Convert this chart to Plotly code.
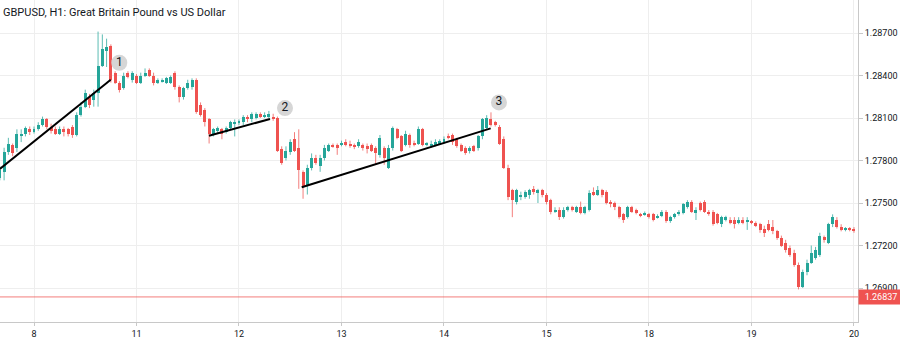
import plotly.graph_objects as go

# Hourly GBPUSD candles, index 0 = first hour of day 8
hours = list(range(-8, 193))

opens = [
    1.2768, 1.2772, 1.2786, 1.2791, 1.2789, 1.2797, 1.2799, 1.2802, 1.2800, 1.2802, 1.2805, 1.2809,
    1.2804, 1.2802, 1.2799, 1.2802, 1.2802, 1.2804, 1.2798, 1.2812, 1.2818, 1.2825, 1.2823, 1.2828,
    1.2847, 1.2857, 1.2861, 1.2842, 1.2835, 1.2831, 1.2842, 1.2837, 1.2840, 1.2835, 1.2840, 1.2844,
    1.2840, 1.2835, 1.2836, 1.2835, 1.2835, 1.2842, 1.2832, 1.2825, 1.2831, 1.2832, 1.2837, 1.2819,
    1.2816, 1.2809, 1.2799, 1.2801, 1.2802, 1.2800, 1.2803, 1.2806, 1.2807, 1.2807, 1.2811, 1.2809,
    1.2810, 1.2813, 1.2811, 1.2811, 1.2811, 1.2810, 1.2788, 1.2782, 1.2786, 1.2795, 1.2789, 1.2772,
    1.2763, 1.2775, 1.2782, 1.2776, 1.2782, 1.2787, 1.2791, 1.2791, 1.2791, 1.2793, 1.2792, 1.2791,
    1.2790, 1.2791, 1.2790, 1.2791, 1.2789, 1.2784, 1.2789, 1.2775, 1.2789, 1.2802, 1.2797, 1.2791,
    1.2798, 1.2792, 1.2792, 1.2802, 1.2791, 1.2790, 1.2791, 1.2792, 1.2793, 1.2797, 1.2798, 1.2795,
    1.2791, 1.2789, 1.2787, 1.2790, 1.2789, 1.2797, 1.2803, 1.2809, 1.2807, 1.2804, 1.2795, 1.2775,
    1.2759, 1.2751, 1.2754, 1.2754, 1.2756, 1.2760, 1.2757, 1.2759, 1.2756, 1.2752, 1.2744, 1.2745,
    1.2740, 1.2745, 1.2747, 1.2744, 1.2747, 1.2743, 1.2745, 1.2758, 1.2756, 1.2759, 1.2758, 1.2751,
    1.2750, 1.2747, 1.2742, 1.2740, 1.2747, 1.2745, 1.2742, 1.2742, 1.2742, 1.2742, 1.2740, 1.2741,
    1.2744, 1.2737, 1.2740, 1.2742, 1.2743, 1.2747, 1.2751, 1.2743, 1.2750, 1.2751, 1.2744, 1.2744,
    1.2742, 1.2735, 1.2738, 1.2738, 1.2738, 1.2736, 1.2738, 1.2737, 1.2737, 1.2736, 1.2735, 1.2732,
    1.2735, 1.2733, 1.2730, 1.2725, 1.2722, 1.2718, 1.2715, 1.2706, 1.2691, 1.2701, 1.2708, 1.2711,
    1.2713, 1.2726, 1.2722, 1.2735, 1.2738, 1.2733, 1.2731, 1.2732, 1.2732,
]

highs = [
    1.2776, 1.2789, 1.2796, 1.2792, 1.2802, 1.2802, 1.2804, 1.2804, 1.2804, 1.2807, 1.2811, 1.2810,
    1.2806, 1.2804, 1.2804, 1.2804, 1.2803, 1.2805, 1.2814, 1.2821, 1.2830, 1.2827, 1.2830, 1.2871,
    1.2869, 1.2866, 1.2862, 1.2843, 1.2836, 1.2842, 1.2843, 1.2843, 1.2841, 1.2842, 1.2845, 1.2845,
    1.2842, 1.2838, 1.2838, 1.2839, 1.2840, 1.2843, 1.2833, 1.2832, 1.2837, 1.2838, 1.2838, 1.2821,
    1.2817, 1.2810, 1.2803, 1.2804, 1.2803, 1.2804, 1.2808, 1.2809, 1.2809, 1.2812, 1.2812, 1.2814,
    1.2814, 1.2814, 1.2814, 1.2815, 1.2813, 1.2811, 1.2790, 1.2790, 1.2795, 1.2800, 1.2802, 1.2773,
    1.2777, 1.2785, 1.2784, 1.2784, 1.2791, 1.2792, 1.2792, 1.2792, 1.2794, 1.2795, 1.2794, 1.2792,
    1.2795, 1.2792, 1.2792, 1.2792, 1.2790, 1.2798, 1.2790, 1.2791, 1.2804, 1.2803, 1.2798, 1.2801,
    1.2799, 1.2794, 1.2804, 1.2803, 1.2793, 1.2794, 1.2795, 1.2795, 1.2797, 1.2799, 1.2799, 1.2796,
    1.2792, 1.2790, 1.2790, 1.2791, 1.2798, 1.2810, 1.2812, 1.2814, 1.2808, 1.2805, 1.2797, 1.2777,
    1.2760, 1.2760, 1.2758, 1.2759, 1.2760, 1.2762, 1.2760, 1.2760, 1.2757, 1.2753, 1.2747, 1.2747,
    1.2747, 1.2748, 1.2748, 1.2748, 1.2751, 1.2748, 1.2759, 1.2761, 1.2762, 1.2760, 1.2759, 1.2752,
    1.2751, 1.2748, 1.2743, 1.2748, 1.2748, 1.2746, 1.2743, 1.2744, 1.2743, 1.2743, 1.2742, 1.2745,
    1.2745, 1.2741, 1.2743, 1.2745, 1.2750, 1.2752, 1.2752, 1.2747, 1.2751, 1.2752, 1.2745, 1.2745,
    1.2743, 1.2741, 1.2741, 1.2740, 1.2740, 1.2740, 1.2740, 1.2740, 1.2738, 1.2737, 1.2736, 1.2734,
    1.2738, 1.2738, 1.2731, 1.2727, 1.2724, 1.2720, 1.2717, 1.2708, 1.2703, 1.2710, 1.2720, 1.2719,
    1.2729, 1.2727, 1.2736, 1.2742, 1.2740, 1.2735, 1.2733, 1.2733, 1.2733,
]

lows = [
    1.2766, 1.2766, 1.2784, 1.2783, 1.2786, 1.2793, 1.2797, 1.2798, 1.2799, 1.2801, 1.2804, 1.2802,
    1.2799, 1.2798, 1.2798, 1.2797, 1.2797, 1.2796, 1.2797, 1.2811, 1.2817, 1.2817, 1.2818, 1.2818,
    1.2846, 1.2846, 1.2835, 1.2834, 1.2828, 1.2830, 1.2838, 1.2835, 1.2834, 1.2834, 1.2839, 1.2839,
    1.2833, 1.2834, 1.2835, 1.2834, 1.2834, 1.2830, 1.2821, 1.2823, 1.2830, 1.2830, 1.2813, 1.2811,
    1.2804, 1.2792, 1.2797, 1.2799, 1.2795, 1.2799, 1.2802, 1.2797, 1.2805, 1.2805, 1.2807, 1.2807,
    1.2809, 1.2810, 1.2810, 1.2810, 1.2808, 1.2786, 1.2777, 1.2780, 1.2784, 1.2786, 1.2760, 1.2753,
    1.2756, 1.2773, 1.2777, 1.2772, 1.2780, 1.2786, 1.2789, 1.2784, 1.2790, 1.2790, 1.2789, 1.2788,
    1.2789, 1.2787, 1.2785, 1.2786, 1.2777, 1.2782, 1.2777, 1.2774, 1.2787, 1.2795, 1.2786, 1.2790,
    1.2789, 1.2790, 1.2791, 1.2790, 1.2790, 1.2789, 1.2790, 1.2791, 1.2792, 1.2795, 1.2791, 1.2789,
    1.2786, 1.2784, 1.2785, 1.2786, 1.2787, 1.2795, 1.2802, 1.2804, 1.2804, 1.2791, 1.2774, 1.2752,
    1.2740, 1.2749, 1.2752, 1.2753, 1.2753, 1.2756, 1.2750, 1.2754, 1.2749, 1.2742, 1.2743, 1.2738,
    1.2739, 1.2744, 1.2744, 1.2743, 1.2742, 1.2742, 1.2744, 1.2755, 1.2755, 1.2754, 1.2749, 1.2747,
    1.2745, 1.2739, 1.2736, 1.2739, 1.2743, 1.2742, 1.2740, 1.2741, 1.2739, 1.2737, 1.2739, 1.2740,
    1.2736, 1.2736, 1.2739, 1.2741, 1.2742, 1.2746, 1.2743, 1.2738, 1.2744, 1.2743, 1.2741, 1.2734,
    1.2735, 1.2733, 1.2737, 1.2735, 1.2732, 1.2735, 1.2735, 1.2731, 1.2735, 1.2733, 1.2729, 1.2726,
    1.2730, 1.2728, 1.2724, 1.2719, 1.2715, 1.2712, 1.2705, 1.2689, 1.2690, 1.2699, 1.2707, 1.2710,
    1.2712, 1.2722, 1.2721, 1.2733, 1.2732, 1.2730, 1.2730, 1.2730, 1.2729,
]

closes = [
    1.2773, 1.2786, 1.2792, 1.2785, 1.2799, 1.2799, 1.2803, 1.2800, 1.2802, 1.2805, 1.2809, 1.2804,
    1.2801, 1.2799, 1.2802, 1.2800, 1.2799, 1.2798, 1.2812, 1.2818, 1.2828, 1.2819, 1.2828, 1.2847,
    1.2859, 1.2860, 1.2837, 1.2835, 1.2830, 1.2840, 1.2839, 1.2842, 1.2835, 1.2840, 1.2842, 1.2840,
    1.2835, 1.2837, 1.2837, 1.2838, 1.2839, 1.2832, 1.2825, 1.2831, 1.2835, 1.2837, 1.2814, 1.2812,
    1.2807, 1.2799, 1.2802, 1.2803, 1.2799, 1.2803, 1.2807, 1.2807, 1.2808, 1.2811, 1.2809, 1.2813,
    1.2813, 1.2811, 1.2812, 1.2813, 1.2809, 1.2787, 1.2778, 1.2787, 1.2793, 1.2787, 1.2773, 1.2761,
    1.2775, 1.2782, 1.2778, 1.2782, 1.2789, 1.2791, 1.2790, 1.2789, 1.2792, 1.2791, 1.2790, 1.2790,
    1.2793, 1.2789, 1.2788, 1.2787, 1.2785, 1.2796, 1.2782, 1.2789, 1.2803, 1.2796, 1.2787, 1.2799,
    1.2791, 1.2791, 1.2802, 1.2791, 1.2792, 1.2792, 1.2793, 1.2794, 1.2795, 1.2796, 1.2793, 1.2790,
    1.2787, 1.2785, 1.2789, 1.2787, 1.2797, 1.2809, 1.2810, 1.2805, 1.2805, 1.2792, 1.2775, 1.2754,
    1.2752, 1.2759, 1.2756, 1.2758, 1.2759, 1.2758, 1.2759, 1.2756, 1.2751, 1.2744, 1.2745, 1.2740,
    1.2745, 1.2747, 1.2745, 1.2747, 1.2743, 1.2747, 1.2757, 1.2756, 1.2759, 1.2756, 1.2750, 1.2749,
    1.2747, 1.2740, 1.2738, 1.2747, 1.2744, 1.2743, 1.2741, 1.2743, 1.2740, 1.2738, 1.2741, 1.2744,
    1.2737, 1.2740, 1.2742, 1.2744, 1.2749, 1.2751, 1.2744, 1.2745, 1.2745, 1.2744, 1.2742, 1.2735,
    1.2736, 1.2740, 1.2740, 1.2736, 1.2735, 1.2738, 1.2736, 1.2738, 1.2736, 1.2734, 1.2731, 1.2729,
    1.2731, 1.2730, 1.2725, 1.2720, 1.2717, 1.2713, 1.2706, 1.2691, 1.2701, 1.2708, 1.2715, 1.2717,
    1.2727, 1.2724, 1.2735, 1.2740, 1.2733, 1.2731, 1.2732, 1.2731, 1.2730,
]

day_ticks = [0, 24, 48, 72, 96, 120, 144, 168, 192]
day_labels = ["8", "11", "12", "13", "14", "15", "18", "19", "20"]
price_ticks = [1.269, 1.272, 1.275, 1.278, 1.281, 1.284, 1.287]
price_labels = ["1.26900", "1.27200", "1.27500", "1.27800", "1.28100", "1.28400", "1.28700"]
last_price = 1.26837

# Hand-drawn trend lines: (start hour, end hour), (start price, end price)
trend_x = [[-8.0, 17.96], [40.97, 55.26], [62.68, 106.93]]
trend_y = [[1.2774, 1.2837], [1.27975, 1.28093], [1.27611, 1.28027]]

# Numbered wave markers
wave_x = [19.97, 58.77, 108.87]
wave_y = [1.2849, 1.2817, 1.2821]
wave_labels = ["1", "2", "3"]

UP = "#26a69a"
DOWN = "#ef5350"
X_RANGE = [-7.96, 192.94]
Y_RANGE = [1.2666, 1.28933]

fig = go.Figure()

# wicks
for is_up, col in ((True, "rgba(38,166,154,0.75)"), (False, "rgba(239,83,80,0.75)")):
    wx, wy = [], []
    for h, o, hi, lo, c in zip(hours, opens, highs, lows, closes):
        if (c >= o) == is_up:
            wx += [h, h, None]
            wy += [lo, hi, None]
    fig.add_trace(go.Scatter(x=wx, y=wy, mode="lines",
                             line=dict(color=col, width=1),
                             hoverinfo="skip", showlegend=False))

# bodies
for is_up, col in ((True, UP), (False, DOWN)):
    bx, bbase, bh = [], [], []
    for h, o, c in zip(hours, opens, closes):
        if (c >= o) == is_up:
            bx.append(h)
            bbase.append(min(o, c))
            bh.append(max(abs(c - o), 0.00005))
    fig.add_trace(go.Bar(x=bx, y=bh, base=bbase, width=0.7,
                         marker=dict(color=col, line=dict(width=0)),
                         hoverinfo="skip", showlegend=False))

# last price line
fig.add_trace(go.Scatter(x=X_RANGE, y=[last_price, last_price], mode="lines",
                         line=dict(color="rgba(239,83,80,0.75)", width=1),
                         hoverinfo="skip", showlegend=False))

# trend lines
for tx, ty in zip(trend_x, trend_y):
    fig.add_trace(go.Scatter(x=tx, y=ty, mode="lines",
                             line=dict(color="#000000", width=2),
                             hoverinfo="skip", showlegend=False))

# wave markers
fig.add_trace(go.Scatter(x=wave_x, y=wave_y, mode="markers+text",
                         text=wave_labels, textposition="middle center",
                         textfont=dict(family="Roboto", size=12, color="#131722"),
                         marker=dict(size=16, color="#d6d6d6", line=dict(width=0)),
                         hoverinfo="skip", showlegend=False))

fig.update_layout(
    width=900, height=342,
    margin=dict(l=0, r=42, t=0, b=20),
    paper_bgcolor="white", plot_bgcolor="white",
    barmode="overlay", bargap=0,
    showlegend=False,
    font=dict(family="Roboto", size=9, color="#131722"),
    xaxis=dict(range=X_RANGE, tickvals=day_ticks, ticktext=day_labels,
               showgrid=True, gridcolor="#eeeeee", gridwidth=1,
               showline=True, linecolor="#c8c8c8", linewidth=1,
               ticks="outside", ticklen=3, tickcolor="#c8c8c8",
               zeroline=False, fixedrange=True,
               tickfont=dict(family="Roboto", size=9, color="#131722")),
    yaxis=dict(range=Y_RANGE, side="right", tickvals=price_ticks, ticktext=price_labels,
               showgrid=True, gridcolor="#eeeeee", gridwidth=1,
               showline=True, linecolor="#c8c8c8", linewidth=1,
               ticks="outside", ticklen=4, tickcolor="#c8c8c8",
               zeroline=False, fixedrange=True,
               tickfont=dict(family="Roboto", size=9, color="#131722")),
    annotations=[
        dict(text="GBPUSD, H1: Great Britain Pound vs US Dollar",
             xref="paper", yref="paper", x=0, y=1, xanchor="left", yanchor="top",
             xshift=1, yshift=-4, showarrow=False,
             font=dict(family="Roboto", size=11, color="#131722")),
        dict(text="1.26837", xref="paper", yref="y", x=1, y=last_price,
             xanchor="left", yanchor="middle", showarrow=False,
             bgcolor=DOWN, borderpad=2, width=40, align="center",
             font=dict(family="Roboto", size=9, color="white")),
    ],
)

fig.write_html("out.html")
